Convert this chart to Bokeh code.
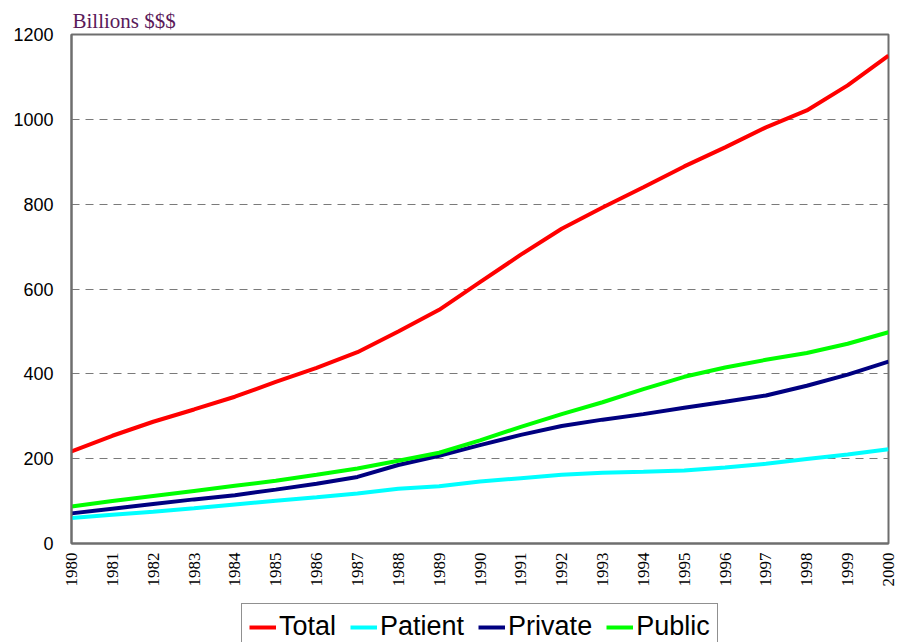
import numpy as np
from bokeh.plotting import figure
from bokeh.layouts import column
from bokeh.models import Range1d, FixedTicker, Legend, LegendItem
from bokeh.embed import file_html
from bokeh.resources import INLINE

years = list(range(1980, 2001))
total = [217, 254, 287, 316, 346, 381, 414, 451, 500, 551, 616, 681, 742, 792, 840, 889, 934, 981, 1021, 1080, 1150]
patient = [60, 68, 75, 83, 92, 101, 109, 118, 129, 135, 146, 154, 162, 167, 169, 172, 179, 188, 199, 210, 222]
private = [71, 82, 93, 104, 114, 127, 141, 157, 185, 207, 232, 256, 277, 292, 305, 320, 334, 349, 372, 398, 429]
public = [87, 100, 112, 124, 136, 148, 162, 177, 195, 214, 243, 275, 305, 333, 364, 393, 415, 433, 449, 471, 498]
y_ticks = [0, 200, 400, 600, 800, 1000, 1200]
grid_ticks = [200, 400, 600, 800, 1000]

series = [("Total", total, "#FF0000"), ("Patient", patient, "#00FFFF"),
          ("Private", private, "#000080"), ("Public", public, "#00FF00")]

p = figure(width=901, height=600, output_backend="svg", toolbar_location=None,
           x_range=Range1d(1980, 2000), y_range=Range1d(0, 1200),
           min_border_left=71, min_border_right=13, min_border_top=34, min_border_bottom=57,
           title="Billions $$$")

p.title.text_font = "Liberation Serif"
p.title.text_font_size = "21px"
p.title.text_font_style = "normal"
p.title.text_color = "#5a1a5a"
p.title.align = "left"
p.title.standoff = 3
p.title.offset = 1

p.background_fill_color = "white"
p.border_fill_color = "white"
p.outline_line_color = "#6e6e6e"
p.outline_line_width = 2

p.xgrid.visible = False
p.ygrid.ticker = FixedTicker(ticks=grid_ticks)
p.ygrid.grid_line_color = "#7a7a7a"
p.ygrid.grid_line_dash = "8 6"
p.ygrid.grid_line_width = 1

p.yaxis.ticker = FixedTicker(ticks=y_ticks)
p.xaxis.ticker = FixedTicker(ticks=years)
for ax in (p.xaxis, p.yaxis):
    ax.axis_line_color = "#6e6e6e"
    ax.axis_line_width = 2
    ax.major_tick_line_color = None
    ax.minor_tick_line_color = None
    ax.major_tick_out = 0
    ax.major_tick_in = 0
    ax.major_label_text_color = "black"

p.yaxis.major_label_text_font = "Liberation Sans"
p.yaxis.major_label_text_font_size = "18px"
p.yaxis.major_label_standoff = 18

p.xaxis.major_label_text_font = "Liberation Serif"
p.xaxis.major_label_text_font_size = "17px"
p.xaxis.major_label_orientation = np.pi / 2
p.xaxis.major_label_standoff = 9

for name, vals, col in series:
    p.line(years, vals, line_color=col, line_width=4)

# legend strip below the chart (its lines repeat the series, kept outside the strip's view)
lg = figure(width=901, height=42, output_backend="svg", toolbar_location=None,
            x_range=Range1d(1980, 2000), y_range=Range1d(5000, 6000),
            x_axis_type=None, y_axis_type=None,
            min_border_left=71, min_border_right=13, min_border_top=0, min_border_bottom=0)
lg.outline_line_color = None
lg.background_fill_color = "white"
lg.border_fill_color = "white"

items = []
for name, vals, col in series:
    r = lg.line(years, vals, line_color=col, line_width=4)
    items.append(LegendItem(label=name, renderers=[r]))

legend = Legend(items=items, orientation="horizontal", location=(170, -8),
                label_text_font="Liberation Sans", label_text_font_size="27px",
                label_text_color="black",
                glyph_width=27, glyph_height=30, label_standoff=3, spacing=14,
                padding=7, margin=0, border_line_color="#222222", border_line_width=1,
                background_fill_alpha=1)
lg.add_layout(legend, "center")

layout = column(p, lg, spacing=0)
open("out.html", "w").write(file_html(layout, INLINE))
